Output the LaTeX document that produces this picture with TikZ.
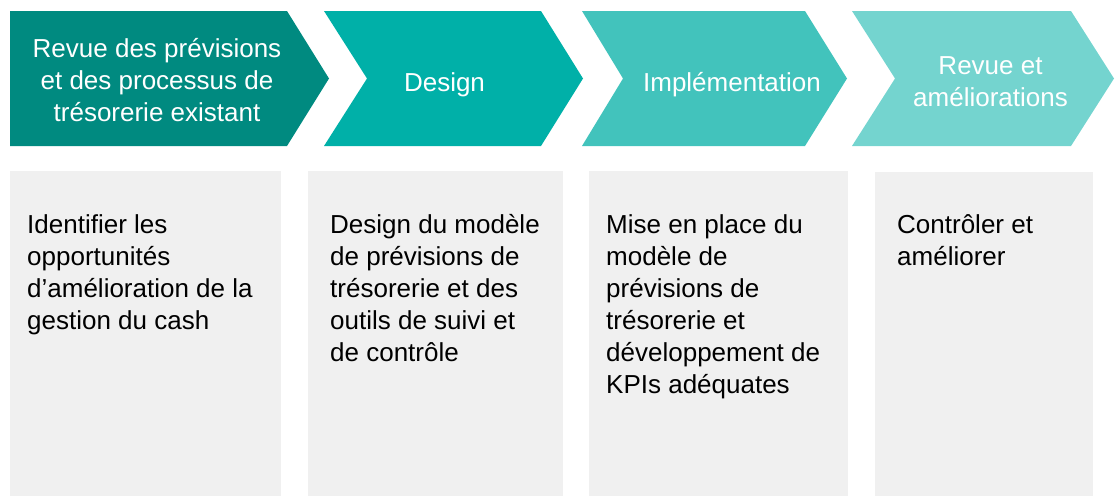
\documentclass[tikz,border=0pt]{standalone}
\usepackage{fontspec}
\setmainfont{Liberation Sans}
\definecolor{stepA}{RGB}{0,138,128}
\definecolor{stepB}{RGB}{0,176,168}
\definecolor{stepC}{RGB}{66,195,188}
\definecolor{stepD}{RGB}{116,212,207}
\definecolor{panelgray}{RGB}{240,240,240}
\newcommand{\stack}[2]{\begin{tabular}[t]{@{}#1@{}}#2\end{tabular}}
\begin{document}
\begin{tikzpicture}[x=1pt,y=-1pt,
  chevtext/.style={anchor=base, inner sep=0pt, text=white,
    font=\fontsize{26}{32}\selectfont},
  boxtext/.style={anchor=base west, inner sep=0pt, text=black,
    font=\fontsize{26}{32}\selectfont}]
\useasboundingbox (0,0) rectangle (1119,496);

% process chevrons
\fill[stepA] (10,11) -- (287,11) -- (329,78.5) -- (287,146) -- (10,146) -- cycle;
\fill[stepB] (324,11) -- (541,11) -- (583,78.5) -- (541,146) -- (324,146) -- (367,78.5) -- cycle;
\fill[stepC] (582,11) -- (805,11) -- (847,78.5) -- (805,146) -- (582,146) -- (623,78.5) -- cycle;
\fill[stepD] (852,11) -- (1071,11) -- (1114,78.5) -- (1071,146) -- (852,146) -- (895,78.5) -- cycle;

\node[chevtext] (t1) at (157,57) {\stack{c}{Revue des prévisions\\ et des processus de\\ trésorerie existant}};
\node[chevtext] (t2) at (444.5,91) {Design};
\node[chevtext] (t3) at (732,91) {Implémentation};
\node[chevtext] (t4) at (990.5,74) {\stack{c}{Revue et\\ améliorations}};

% description panels
\fill[panelgray] (10,171) rectangle (281,496);
\fill[panelgray] (308,171) rectangle (563,496);
\fill[panelgray] (589,171) rectangle (848,496);
\fill[panelgray] (875,172) rectangle (1093,496);

\node[boxtext] (d1) at (27,233.5) {\stack{l}{Identifier les\\ opportunités\\ d’amélioration de la\\ gestion du cash}};
\node[boxtext] (d2) at (330,233) {\stack{l}{Design du modèle\\ de prévisions de\\ trésorerie et des\\ outils de suivi et\\ de contrôle}};
\node[boxtext] (d3) at (606,233) {\stack{l}{Mise en place du\\ modèle de\\ prévisions de\\ trésorerie et\\ développement de\\ KPIs adéquates}};
\node[boxtext] (d4) at (897,233) {\stack{l}{Contrôler et\\ améliorer}};
\end{tikzpicture}
\end{document}
